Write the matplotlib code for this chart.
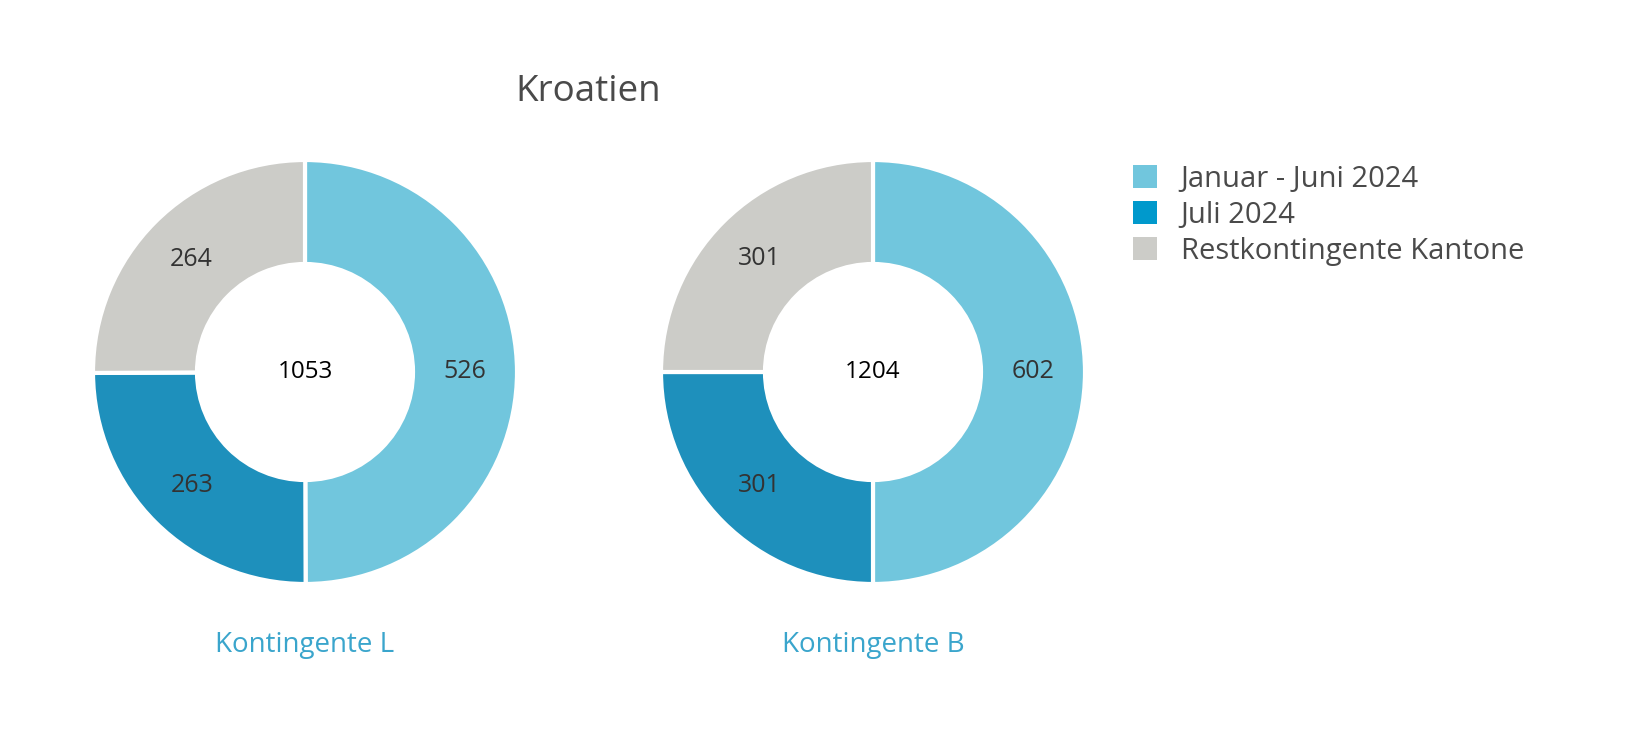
import matplotlib
matplotlib.use("Agg")
import matplotlib.pyplot as plt
from matplotlib.patches import Patch

plt.rcParams['font.family'] = ['Open Sans', 'DejaVu Sans']

title = 'Kroatien'
categories = ['Januar - Juni 2024', 'Juli 2024', 'Restkontingente Kantone']
charts = ['Kontingente L', 'Kontingente B']
values_L = [526, 263, 264]
values_B = [602, 301, 301]
totals = [1053, 1204]

slice_colors = ['#71C6DD', '#1E90BC', '#CCCCC8']
legend_colors = ['#71C6DD', '#0099CC', '#CCCCC8']

W, H = 1632, 756
fig = plt.figure(figsize=(W / 100, H / 100), dpi=100)
ax = fig.add_axes([0, 0, 1, 1])

centers = [(305, H - 372), (873, H - 372)]
radius = 212
ring = 104

for (cx, cy), vals, name, tot in zip(centers, [values_L, values_B], charts, totals):
    wedges, texts = ax.pie(vals, colors=slice_colors, startangle=90, counterclock=False,
                           center=(cx, cy), radius=radius, labels=[str(v) for v in vals],
                           labeldistance=(radius - ring / 2) / radius,
                           wedgeprops=dict(width=ring, edgecolor='white', linewidth=3),
                           textprops=dict(fontsize=18, color='#333333'),
                           frame=True)
    for t in texts:
        t.set_ha('center')
        t.set_va('center')
    ax.text(cx, cy, str(tot), fontsize=17.5, color='black', ha='center', va='center')
    ax.text(cx, H - 645, name, fontsize=20, color='#3AA5CC', ha='center', va='center')

ax.set_xlim(0, W)
ax.set_ylim(0, H)
ax.set_aspect('equal')
ax.axis('off')

ax.text(588, H - 92, title, fontsize=26.5, color='#4A4A4A', ha='center', va='center')

handles = [Patch(facecolor=c, edgecolor='none') for c in legend_colors]
fig.legend(handles, categories, loc='upper left', bbox_to_anchor=(1133 / W, 1 - 165 / H),
           frameon=False, fontsize=21, handlelength=0.83, handleheight=0.83,
           handletextpad=0.8, labelspacing=0.24, borderpad=0, borderaxespad=0,
           labelcolor='#4A4A4A')

fig.savefig('out.png', dpi=100, facecolor='white')
